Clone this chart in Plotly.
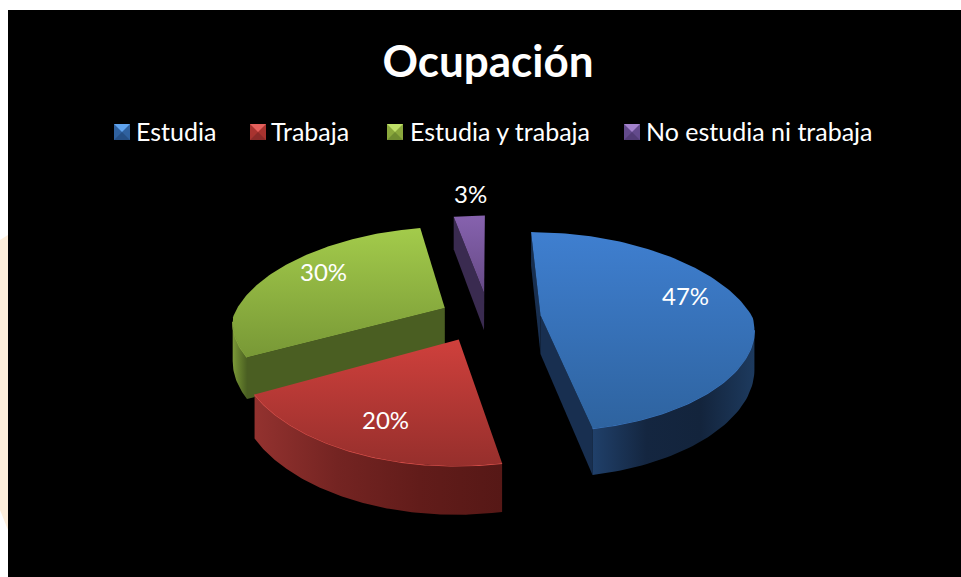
import numpy as np
import plotly.graph_objects as go

# ---- data ----
categories = ["Estudia", "Trabaja", "Estudia y trabaja", "No estudia ni trabaja"]
values = [47, 20, 30, 3]
title_text = "Ocupación"

# ---- style ----
top_colors = [("#3f7fd0", "#2e639f"), ("#cf403c", "#962f2c"), ("#a3cb4b", "#789836"), ("#8662ae", "#664a86")]
key_colors = [("#5fa3ee", "#2f619f", "#254f85"), ("#e4605c", "#a8332f", "#8a2a28"),
              ("#bfe068", "#8aa83c", "#6f8c30"), ("#a382cc", "#634a8c", "#523c76")]
rim_colors = [["#20406a", "#142640", "#13243c", "#1d3a5e"],
              ["#93322f", "#742422", "#621c1a", "#561816"],
              ["#7c9a38", "#6a8530", "#5a7228", "#4a5f22"],
              ["#3b2c50", "#3b2c50"]]
wall_colors = ["#182f50", "#6a2220", "#4a5e22", "#3a2b50"]
edge_colors = ["#3a74bd", "#d9504b", "#8aab40", "#7a58a0"]
label_xy = [(685, 295.5), (385, 419.5), (323, 271.5), (470, 193.5)]
legend_left = [96, 231, 370, 606]
key_left = [114, 250, 387, 624]
draw_order = [3, 2, 0, 1]
pull = [0.25, 0.24, 0.23, 0.264]
nudge_x = [0, -7, 0, 1]

# ---- projection of the tilted disc onto the page ----
CX, CY, SX, SY, K, KX_BACK, KX_FRONT, DEPTH = 488, 317.5, 212, 97.5, 0.165, 0.22, 0.12, 39


def project(u, v, z=0.0):
    p = 1.0 / (1.0 + K * v)
    px = 1.0 / (1.0 + np.where(np.asarray(v) > 0, KX_BACK, KX_FRONT) * v)
    return CX + SX * u * px, CY - SY * v * p + z * DEPTH * p


def area(xs, ys):
    return 0.5 * sum(xs[i] * ys[(i + 1) % len(xs)] - xs[(i + 1) % len(xs)] * ys[i] for i in range(len(xs)))


def scale(colors):
    return [[i / (len(colors) - 1), c] for i, c in enumerate(colors)]


fig = go.Figure()
fig.add_shape(type="rect", x0=8, x1=961, y0=10, y1=577, fillcolor="#000000", line_width=0, layer="below")
fig.add_shape(type="path", path="M 0 240 L 8 235 L 8 530 L 0 510 Z", fillcolor="#fdeedb", line_width=0, layer="below")

total = sum(values)
edges = np.cumsum([0] + values) / total * 2 * np.pi


def poly(xs, ys, colors, orient="horizontal"):
    xs, ys = [float(a) for a in xs], [float(a) for a in ys]
    if orient == "horizontal":
        a, b = min(xs), max(xs)
    else:
        a, b = min(ys), max(ys)
    fig.add_trace(go.Scatter(x=xs + xs[:1], y=ys + ys[:1], mode="lines", fill="toself", line=dict(width=0),
                             fillgradient=dict(type=orient, colorscale=scale(colors), start=a, stop=b),
                             showlegend=False, hoverinfo="skip"))


for idx in draw_order:
    t0, t1 = edges[idx], edges[idx + 1]
    mid = (t0 + t1) / 2
    du, dv = pull[idx] * np.sin(mid), pull[idx] * np.cos(mid)
    th = np.linspace(t0, t1, 121)
    U, V = du + np.sin(th), dv + np.cos(th)
    n = nudge_x[idx]
    tx, ty = project(U, V)
    bx, by = project(U, V, 1.0)
    ax, ay = project(du, dv)
    axb, ayb = project(du, dv, 1.0)
    tx, bx, ax, axb = tx + n, bx + n, ax + n, axb + n

    # radial walls, only those that face the viewer
    for e, (ex, ey, ebx, eby) in enumerate([(tx[0], ty[0], bx[0], by[0]), (tx[-1], ty[-1], bx[-1], by[-1])]):
        wx, wy = [ax, ex, ebx, axb], [ay, ey, eby, ayb]
        s = area(wx, wy)
        if (e == 0 and s < 0) or (e == 1 and s > 0):
            poly(wx, wy, [wall_colors[idx], wall_colors[idx]])

    # outer rim: keep the segments that face the viewer
    vis = [area([tx[i], tx[i + 1], bx[i + 1], bx[i]], [ty[i], ty[i + 1], by[i + 1], by[i]]) < 0 for i in range(120)]
    ids = [i for i, f in enumerate(vis) if f]
    if ids:
        a, b = ids[0], ids[-1] + 2
        rx = list(tx[a:b]) + list(bx[a:b][::-1])
        ry = list(ty[a:b]) + list(by[a:b][::-1])
        poly(rx, ry, rim_colors[idx])
        fig.add_trace(go.Scatter(x=list(tx[a:b]), y=list(ty[a:b]), mode="lines", showlegend=False, hoverinfo="skip",
                                 line=dict(width=1.2, color=edge_colors[idx])))

    # top face
    poly([ax] + list(tx), [ay] + list(ty), list(top_colors[idx]), "vertical")

# bevelled legend keys
KEY_SIZE, KEY_TOP = 16, 124
for left, (light, mid_c, dark) in zip(key_left, key_colors):
    l, r, t, b = left, left + KEY_SIZE, KEY_TOP, KEY_TOP + KEY_SIZE
    cx, cy = (l + r) / 2, (t + b) / 2
    poly([l, r, r, l], [t, t, b, b], [mid_c, mid_c])
    poly([l, r, cx], [b, b, cy], [dark, dark])
    poly([l, r, cx], [t, t, cy], [light, light])

# legend entries: text from the native legends, the visible key is the bevelled one above
legend_ids = ["legend", "legend2", "legend3", "legend4"]
for name, lid in zip(categories, legend_ids):
    fig.add_trace(go.Scatter(x=[None], y=[None], mode="markers", name=name, legend=lid, showlegend=True,
                             marker=dict(symbol="square", size=15, color="rgba(0,0,0,0)")))

annotations = [dict(x=x, y=y, text=f"{v}%", showarrow=False, xanchor="center", yanchor="middle",
                    font=dict(family="Lato", size=24, color="#ffffff"))
               for (x, y), v in zip(label_xy, values)]

legend_layouts = {
    lid: dict(orientation="h", x=left / 961, y=1 - 131 / 577, xanchor="left", yanchor="middle",
              bgcolor="rgba(0,0,0,0)", font=dict(family="Lato", size=25, color="#ffffff"), itemwidth=30)
    for lid, left in zip(legend_ids, legend_left)
}

fig.update_layout(
    width=961, height=577, margin=dict(l=0, r=0, t=0, b=0),
    paper_bgcolor="#ffffff", plot_bgcolor="rgba(0,0,0,0)",
    xaxis=dict(range=[0, 961], visible=False, fixedrange=True),
    yaxis=dict(range=[577, 0], visible=False, fixedrange=True),
    title=dict(text=f"<b>{title_text}</b>", x=488 / 961, y=1 - 62 / 577, xanchor="center", yanchor="middle",
               font=dict(family="Lato", size=44, color="#ffffff")),
    annotations=annotations,
    **legend_layouts,
)
fig.write_html("out.html", config={"displayModeBar": False},
               post_script="document.body.style.margin='0';document.body.style.overflow='hidden';")
